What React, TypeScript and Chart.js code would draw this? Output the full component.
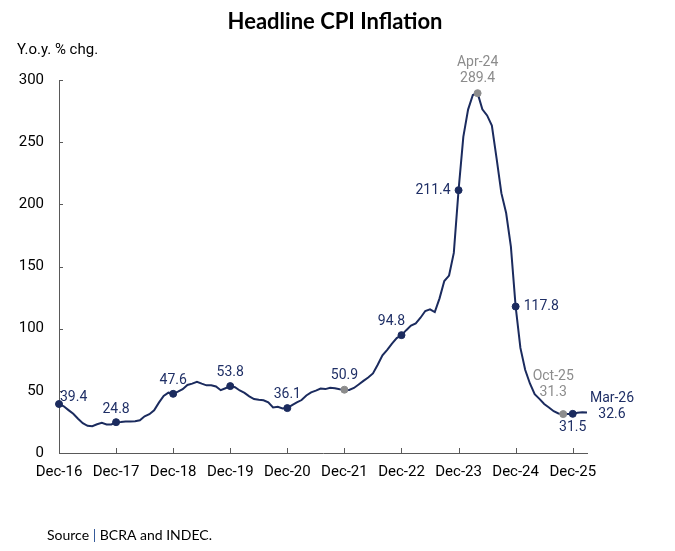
import React, { useEffect, useRef } from "react";
import { Chart, registerables } from "chart.js";

Chart.register(...registerables);

// ---- Data (y/y % change, monthly) ----
const MONTHS = ["Jan", "Feb", "Mar", "Apr", "May", "Jun", "Jul", "Aug", "Sep", "Oct", "Nov", "Dec"];
const START_LABEL = "Dec-16";
const YEARS = ["17", "18", "19", "20", "21", "22", "23", "24", "25"];
const MONTHS_2026 = ["Jan-26", "Feb-26", "Mar-26"];

const dec2016 = [39.4];
const y2017 = [37.6, 34.5, 31.5, 27.5, 24.0, 21.9, 21.6, 23.1, 24.2, 22.9, 23.0, 24.8];
const y2018 = [25.0, 25.4, 25.4, 25.5, 26.3, 29.5, 31.2, 34.4, 40.5, 45.9, 48.5, 47.6];
const y2019 = [49.3, 51.3, 54.7, 55.8, 57.3, 55.8, 54.4, 54.5, 53.5, 50.5, 52.1, 53.8];
const y2020 = [52.9, 50.3, 48.4, 45.6, 43.4, 42.8, 42.4, 40.7, 36.6, 37.2, 35.8, 36.1];
const y2021 = [38.5, 40.7, 42.6, 46.3, 48.8, 50.2, 51.8, 51.4, 52.5, 52.1, 51.2, 50.9];
const y2022 = [50.7, 52.3, 55.1, 58.0, 60.7, 64.0, 71.0, 78.5, 83.0, 88.0, 92.4, 94.8];
const y2023 = [98.8, 102.5, 104.3, 108.8, 114.2, 115.6, 113.4, 124.4, 138.3, 142.7, 160.9, 211.4];
const y2024 = [254.2, 276.2, 287.9, 289.4, 276.4, 271.5, 263.4, 236.7, 209.0, 193.0, 166.0, 117.8];
const y2025 = [84.5, 66.9, 55.9, 47.3, 43.5, 39.4, 36.6, 33.6, 31.8, 31.3, 31.4, 31.5];
const y2026 = [32.4, 32.8, 32.6];

const Y_TICKS = [0, 50, 100, 150, 200, 250, 300];

const labels: string[] = [START_LABEL];
YEARS.forEach((yy) => MONTHS.forEach((m) => labels.push(`${m}-${yy}`)));
MONTHS_2026.forEach((l) => labels.push(l));

const values: number[] = [
  ...dec2016, ...y2017, ...y2018, ...y2019, ...y2020, ...y2021,
  ...y2022, ...y2023, ...y2024, ...y2025, ...y2026,
];

// highlighted points (by category label)
const MARKED_DARK = ["Dec-16", "Dec-17", "Dec-18", "Dec-19", "Dec-20", "Dec-22", "Dec-23", "Dec-24", "Dec-25"];
const MARKED_GRAY = ["Dec-21", "Apr-24", "Oct-25"];
const TICK_LABELS = ["Dec-16", "Dec-17", "Dec-18", "Dec-19", "Dec-20", "Dec-21", "Dec-22", "Dec-23", "Dec-24", "Dec-25"];

const NAVY = "#1B2B5E";
const LABEL_NAVY = "#1F2F66";
const GRAY = "#8C8C8C";
const AXIS = "#595959";

type Ann = { at: string; lines: string[]; color: string; align: CanvasTextAlign; dx: number; dy: number };
// label placement config (text drawn relative to the point through the scales)
const ANNOTATIONS: Ann[] = [
  { at: "Dec-16", lines: ["39.4"], color: LABEL_NAVY, align: "left", dx: 1, dy: -7 },
  { at: "Dec-17", lines: ["24.8"], color: LABEL_NAVY, align: "center", dx: 0, dy: -13 },
  { at: "Dec-18", lines: ["47.6"], color: LABEL_NAVY, align: "center", dx: 0, dy: -13 },
  { at: "Dec-19", lines: ["53.8"], color: LABEL_NAVY, align: "center", dx: 0, dy: -14 },
  { at: "Dec-20", lines: ["36.1"], color: LABEL_NAVY, align: "center", dx: 0, dy: -14 },
  { at: "Dec-21", lines: ["50.9"], color: LABEL_NAVY, align: "center", dx: 0, dy: -14 },
  { at: "Dec-22", lines: ["94.8"], color: LABEL_NAVY, align: "center", dx: -10, dy: -14 },
  { at: "Dec-23", lines: ["211.4"], color: LABEL_NAVY, align: "right", dx: -8, dy: 0 },
  { at: "Apr-24", lines: ["Apr-24", "289.4"], color: GRAY, align: "center", dx: 0, dy: -31 },
  { at: "Dec-24", lines: ["117.8"], color: LABEL_NAVY, align: "left", dx: 8, dy: 0 },
  { at: "Oct-25", lines: ["Oct-25", "31.3"], color: GRAY, align: "center", dx: -10, dy: -38 },
  { at: "Dec-25", lines: ["31.5"], color: LABEL_NAVY, align: "center", dx: 0, dy: 14 },
  { at: "Mar-26", lines: ["Mar-26", "32.6"], color: LABEL_NAVY, align: "center", dx: 25, dy: -14 },
];
const LINE_H = 16;

const TITLE = "Headline CPI Inflation";
const UNIT = "Y.o.y. % chg.";

const overlayPlugin = {
  id: "overlay",
  afterDraw(chart: any) {
    const ctx: CanvasRenderingContext2D = chart.ctx;
    const xs = chart.scales.x;
    const ys = chart.scales.y;
    const area = chart.chartArea;
    ctx.save();
    // inward tick marks
    ctx.strokeStyle = AXIS;
    ctx.lineWidth = 1;
    TICK_LABELS.forEach((l) => {
      const i = labels.indexOf(l);
      const x = Math.round(xs.getPixelForValue(i)) + 0.5;
      ctx.beginPath();
      ctx.moveTo(x, area.bottom);
      ctx.lineTo(x, area.bottom - 5);
      ctx.stroke();
    });
    Y_TICKS.forEach((v) => {
      const y = Math.round(ys.getPixelForValue(v)) + 0.5;
      ctx.beginPath();
      ctx.moveTo(area.left, y);
      ctx.lineTo(area.left + 4, y);
      ctx.stroke();
    });
    // annotations
    ctx.font = "14px Roboto";
    ctx.textBaseline = "middle";
    ANNOTATIONS.forEach((a) => {
      const i = labels.indexOf(a.at);
      const px = xs.getPixelForValue(i);
      const py = ys.getPixelForValue(values[i]);
      ctx.fillStyle = a.color;
      ctx.textAlign = a.align;
      a.lines.forEach((t, k) => ctx.fillText(t, px + a.dx, py + a.dy + k * LINE_H));
    });
    // title
    ctx.fillStyle = "#000";
    ctx.textAlign = "center";
    ctx.textBaseline = "alphabetic";
    ctx.font = "bold 22px Lato";
    ctx.fillText(TITLE, 335, 29);
    // unit
    ctx.font = "15px Roboto";
    ctx.textAlign = "left";
    ctx.textBaseline = "middle";
    ctx.fillStyle = "#000";
    ctx.fillText(UNIT, 17, 50);
    // source
    ctx.font = "14px Lato";
    let x = 47;
    const y = 535;
    const parts: [string, string][] = [["Source ", "#000"], ["|", "#2F5597"], [" BCRA and INDEC.", "#000"]];
    parts.forEach(([t, c]) => {
      ctx.fillStyle = c;
      ctx.fillText(t, x, y);
      x += ctx.measureText(t).width;
    });
    ctx.restore();
  },
};

export default function App() {
  const ref = useRef<HTMLCanvasElement | null>(null);
  useEffect(() => {
    if (!ref.current) return;
    const isDark = (i: number) => MARKED_DARK.includes(labels[i]);
    const isGray = (i: number) => MARKED_GRAY.includes(labels[i]);
    const chart = new Chart(ref.current, {
      type: "line",
      data: {
        labels,
        datasets: [
          {
            data: values,
            borderColor: NAVY,
            borderWidth: 2,
            tension: 0,
            pointRadius: (c: any) => (isDark(c.dataIndex) || isGray(c.dataIndex) ? 3.5 : 0),
            pointBackgroundColor: (c: any) => (isGray(c.dataIndex) ? GRAY : NAVY),
            pointBorderColor: (c: any) => (isGray(c.dataIndex) ? GRAY : NAVY),
            pointBorderWidth: 1,
          },
        ],
      },
      options: {
        responsive: false,
        animation: false,
        devicePixelRatio: 1,
        layout: { padding: { left: 0, top: 80, right: 88, bottom: 0 } },
        plugins: { legend: { display: false }, tooltip: { enabled: false }, title: { display: false } },
        scales: {
          x: {
            type: "category",
            offset: false,
            grid: { display: false, drawTicks: false },
            border: { display: true, color: AXIS, width: 1 },
            ticks: {
              autoSkip: false,
              maxRotation: 0,
              minRotation: 0,
              padding: 10,
              color: "#000",
              font: { family: "Roboto", size: 15 },
              callback: (_v: any, idx: number) => (TICK_LABELS.includes(labels[idx]) ? labels[idx] : null),
            },
            afterFit: (s: any) => {
              s.height = 98;
            },
          },
          y: {
            min: 0,
            max: 300,
            grid: { display: false, drawTicks: false },
            border: { display: true, color: AXIS, width: 1 },
            ticks: {
              stepSize: 50,
              padding: 15,
              color: "#000",
              font: { family: "Roboto", size: 15 },
            },
            afterFit: (s: any) => {
              s.width = 59;
            },
          },
        },
      },
      plugins: [overlayPlugin],
    });
    return () => chart.destroy();
  }, []);
  return (
    <div style={{ position: "fixed", left: 0, top: 0, width: 675, height: 551, background: "#fff" }}>
      <canvas ref={ref} width={675} height={551} style={{ width: 675, height: 551, display: "block" }} />
    </div>
  );
}
